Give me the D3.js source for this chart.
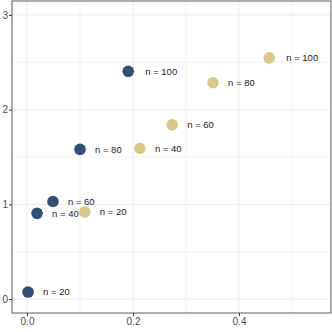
<!DOCTYPE html>
<html>
<head>
<meta charset="utf-8">
<script src="https://cdn.jsdelivr.net/npm/d3@7"></script>
<style>
  body { margin: 0; background: #fff; }
  svg text { font-family: "Liberation Sans", Arial, sans-serif; }
</style>
</head>
<body>
<script>
// series values
var labels = ["n = 20", "n = 40", "n = 60", "n = 80", "n = 100"];
var blueX = [0.002, 0.019, 0.049, 0.100, 0.191];
var blueY = [0.074, 0.905, 1.030, 1.580, 2.405];
var goldX = [0.109, 0.213, 0.274, 0.351, 0.457];
var goldY = [0.921, 1.590, 1.839, 2.284, 2.547];
var xTicks = [0.0, 0.2, 0.4];
var yTicks = [0, 1, 2, 3];

var W = 332, H = 332;
var pLeft = 12, pRight = 331, pTop = 1, pBottom = 313;

var x = d3.scaleLinear().domain([-0.0283, 0.5736]).range([pLeft, pRight]);
var y = d3.scaleLinear().domain([-0.147, 3.147]).range([pBottom, pTop]);

var svg = d3.select("body").append("svg")
    .attr("width", W)
    .attr("height", H);

// grid
var minorX = [0.1, 0.3, 0.5], minorY = [0.5, 1.5, 2.5];
svg.selectAll(".gx").data(xTicks.concat(minorX)).enter().append("line")
    .attr("x1", d => x(d)).attr("x2", d => x(d))
    .attr("y1", pTop).attr("y2", pBottom)
    .attr("stroke", "#ebebeb")
    .attr("stroke-width", (d, i) => i < xTicks.length ? 1 : 0.6);
svg.selectAll(".gy").data(yTicks.concat(minorY)).enter().append("line")
    .attr("y1", d => y(d)).attr("y2", d => y(d))
    .attr("x1", pLeft).attr("x2", pRight)
    .attr("stroke", "#ebebeb")
    .attr("stroke-width", (d, i) => i < yTicks.length ? 1 : 0.6);

// panel border
svg.append("rect")
    .attr("x", pLeft).attr("y", pTop)
    .attr("width", pRight - pLeft).attr("height", pBottom - pTop)
    .attr("fill", "none")
    .attr("stroke", "#5a5a5a")
    .attr("stroke-width", 1);

// axes
var xAxis = svg.append("g")
    .attr("transform", "translate(0," + pBottom + ")")
    .call(d3.axisBottom(x).tickValues(xTicks).tickFormat(d3.format(".1f")).tickSize(3).tickPadding(2));
var yAxis = svg.append("g")
    .attr("transform", "translate(" + pLeft + ",0)")
    .call(d3.axisLeft(y).tickValues(yTicks).tickFormat(d3.format("d")).tickSize(3).tickPadding(1));
[xAxis, yAxis].forEach(function(a) {
    a.select(".domain").remove();
    a.selectAll(".tick line").attr("stroke", "#333");
    a.selectAll(".tick text").attr("fill", "#4d4d4d").style("font-size", "10px");
});

function drawSeries(xs, ys, color) {
    var pts = xs.map(function(v, i) { return { x: v, y: ys[i], label: labels[i] }; });
    svg.selectAll(null).data(pts).enter().append("circle")
        .attr("cx", d => x(d.x))
        .attr("cy", d => y(d.y))
        .attr("r", 5.8)
        .attr("fill", color);
    svg.selectAll(null).data(pts).enter().append("text")
        .attr("x", d => x(d.x) + (d.label === "n = 100" ? 17 : 15))
        .attr("y", d => y(d.y))
        .attr("dy", "0.35em")
        .attr("fill", "#1a1a1a")
        .style("font-size", "9.5px")
        .text(d => d.label);
}

drawSeries(blueX, blueY, "#344d74");
drawSeries(goldX, goldY, "#d6c98a");
</script>
</body>
</html>
